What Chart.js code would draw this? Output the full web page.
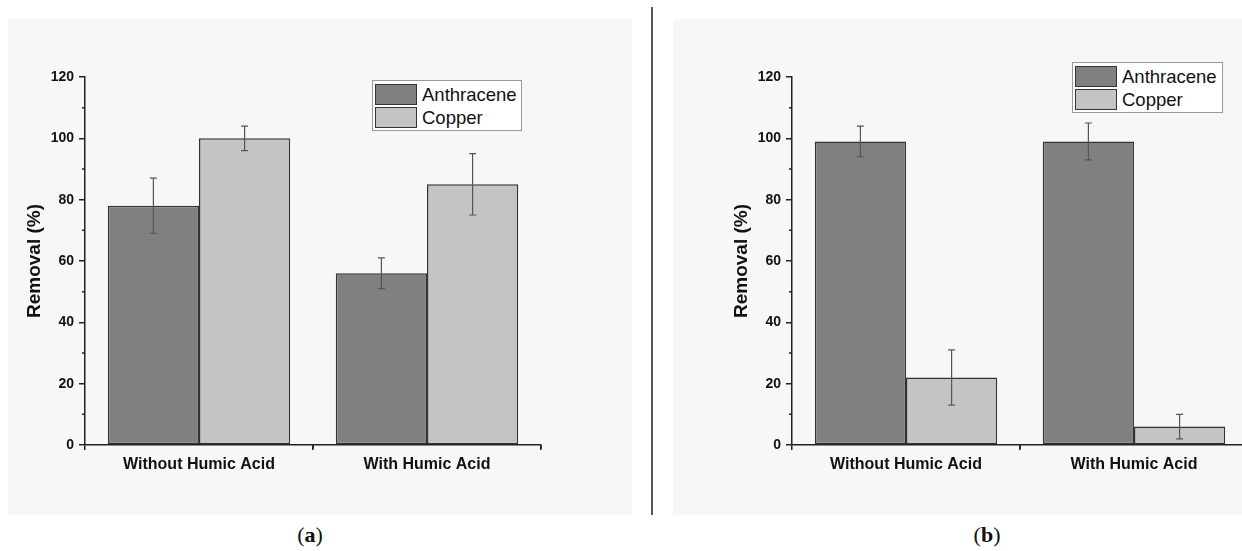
<!DOCTYPE html>
<html>
<head>
<meta charset="utf-8">
<script src="https://cdn.jsdelivr.net/npm/chart.js@4.4.0/dist/chart.umd.min.js"></script>
<style>
  html, body { margin: 0; padding: 0; width: 1242px; height: 551px; overflow: hidden; background: #fff; }
  .panel { position: absolute; top: 19px; height: 496px; background: #f7f7f7; }
  #panelA { left: 8px; width: 624px; }
  #panelB { left: 673px; width: 575px; }
  #sep { position: absolute; left: 651px; top: 7px; width: 1.5px; height: 508px; background: #555; }
  .legend { position: absolute; box-sizing: border-box; background: #fff; border: 1px solid #999;
            padding: 2px 2px; font-family: "Liberation Sans", Arial, sans-serif; font-size: 18.5px; color: #111; }
  .legend .row { display: flex; align-items: center; height: 23px; }
  .legend .sw { width: 42px; height: 21px; box-sizing: border-box; border: 1.5px solid #333; margin-right: 5px; }
  .caption { position: absolute; width: 100px; text-align: center; top: 522px;
             font-family: "Liberation Serif", "DejaVu Serif", serif; font-size: 22px; line-height: 26px; color: #111; }
</style>
</head>
<body>
<div id="panelA" class="panel"><canvas id="chartA" width="624" height="496"></canvas></div>
<div id="panelB" class="panel"><canvas id="chartB" width="575" height="496"></canvas></div>
<div id="sep"></div>
<div id="legendA" class="legend" style="left:372px; top:80px; width:150px; height:51px;"></div>
<div id="legendB" class="legend" style="left:1072px; top:62px; width:151px; height:51px;"></div>
<div class="caption" style="left:260px;">(<b>a</b>)</div>
<div class="caption" style="left:937px;">(<b>b</b>)</div>

<script>
const categories = ['Without Humic Acid', 'With Humic Acid'];
const seriesNames = ['Anthracene', 'Copper'];

// panel (a)
const anthraceneA = [78, 56];
const anthraceneErrA = [9, 5];
const copperA = [100, 85];
const copperErrA = [4, 10];

// panel (b)
const anthraceneB = [99, 99];
const anthraceneErrB = [5, 6];
const copperB = [22, 6];
const copperErrB = [9, 4];

const yMin = 0, yMax = 120, yStep = 20;

const barColors = ['#808080', '#c4c4c4'];
const axisColor = '#222';

Chart.defaults.font.family = '"Liberation Sans", Arial, sans-serif';
Chart.defaults.color = '#111';

// error bars, minor y ticks and category boundary ticks
const extras = {
  id: 'extras',
  afterDatasetsDraw(chart) {
    const ctx = chart.ctx;
    const y = chart.scales.y;
    const x = chart.scales.x;
    const area = chart.chartArea;
    ctx.save();
    ctx.strokeStyle = '#555';
    ctx.lineWidth = 1.2;
    chart.data.datasets.forEach((ds, i) => {
      chart.getDatasetMeta(i).data.forEach((bar, j) => {
        const top = y.getPixelForValue(ds.data[j] + ds.errors[j]);
        const bot = y.getPixelForValue(ds.data[j] - ds.errors[j]);
        ctx.beginPath();
        ctx.moveTo(bar.x, top); ctx.lineTo(bar.x, bot);
        ctx.moveTo(bar.x - 3.5, top); ctx.lineTo(bar.x + 3.5, top);
        ctx.moveTo(bar.x - 3.5, bot); ctx.lineTo(bar.x + 3.5, bot);
        ctx.stroke();
      });
    });

    ctx.strokeStyle = axisColor;
    ctx.lineWidth = 1.5;
    ctx.beginPath();
    for (let v = yMin + yStep / 2; v < yMax; v += yStep) {
      const py = y.getPixelForValue(v);
      ctx.moveTo(area.left - 3, py); ctx.lineTo(area.left, py);
    }
    const half = (x.right - x.left) / categories.length / 2;
    categories.forEach((c, i) => {
      const px = x.getPixelForValue(i) + half;
      ctx.moveTo(px, area.bottom); ctx.lineTo(px, area.bottom + 4);
    });
    ctx.stroke();
    ctx.restore();
  }
};

function makeChart(id, anth, anthErr, cop, copErr, padLeft, padRight) {
  return new Chart(document.getElementById(id), {
    type: 'bar',
    data: {
      labels: categories,
      datasets: [
        { label: seriesNames[0], data: anth, errors: anthErr, backgroundColor: barColors[0],
          borderColor: '#333', borderWidth: 1.5, borderSkipped: false },
        { label: seriesNames[1], data: cop, errors: copErr, backgroundColor: barColors[1],
          borderColor: '#333', borderWidth: 1.5, borderSkipped: false }
      ]
    },
    options: {
      responsive: false,
      animation: false,
      layout: { padding: { left: padLeft, right: padRight, top: 58, bottom: 0 } },
      plugins: { legend: { display: false }, tooltip: { enabled: false } },
      datasets: { bar: { categoryPercentage: 0.8, barPercentage: 1.0 } },
      scales: {
        x: {
          afterFit: s => { s.height = 70; },
          grid: { drawOnChartArea: false, drawTicks: true, tickLength: 5, color: axisColor, lineWidth: 1.5 },
          border: { display: true, color: axisColor, width: 1.5 },
          ticks: { font: { size: 16, weight: 'bold' }, padding: 5, color: '#111' }
        },
        y: {
          min: yMin,
          max: yMax,
          afterFit: s => { s.width = 77; },
          grid: { drawOnChartArea: false, drawTicks: true, tickLength: 6, color: axisColor, lineWidth: 1.5 },
          border: { display: true, color: axisColor, width: 1.5 },
          ticks: { stepSize: yStep, font: { size: 14, weight: 'bold' }, padding: 5, color: '#111' },
          title: { display: true, text: 'Removal (%)', font: { size: 19, weight: 'bold' },
                   color: '#111', padding: { top: 15, bottom: 0 } }
        }
      }
    },
    plugins: [extras]
  });
}

makeChart('chartA', anthraceneA, anthraceneErrA, copperA, copperErrA, 0, 91);
makeChart('chartB', anthraceneB, anthraceneErrB, copperB, copperErrB, 42, 0);

function buildLegend(id) {
  const box = document.getElementById(id);
  seriesNames.forEach((name, i) => {
    const row = document.createElement('div');
    row.className = 'row';
    const sw = document.createElement('div');
    sw.className = 'sw';
    sw.style.background = barColors[i];
    const txt = document.createElement('span');
    txt.textContent = name;
    row.appendChild(sw);
    row.appendChild(txt);
    box.appendChild(row);
  });
}
buildLegend('legendA');
buildLegend('legendB');
</script>
</body>
</html>
